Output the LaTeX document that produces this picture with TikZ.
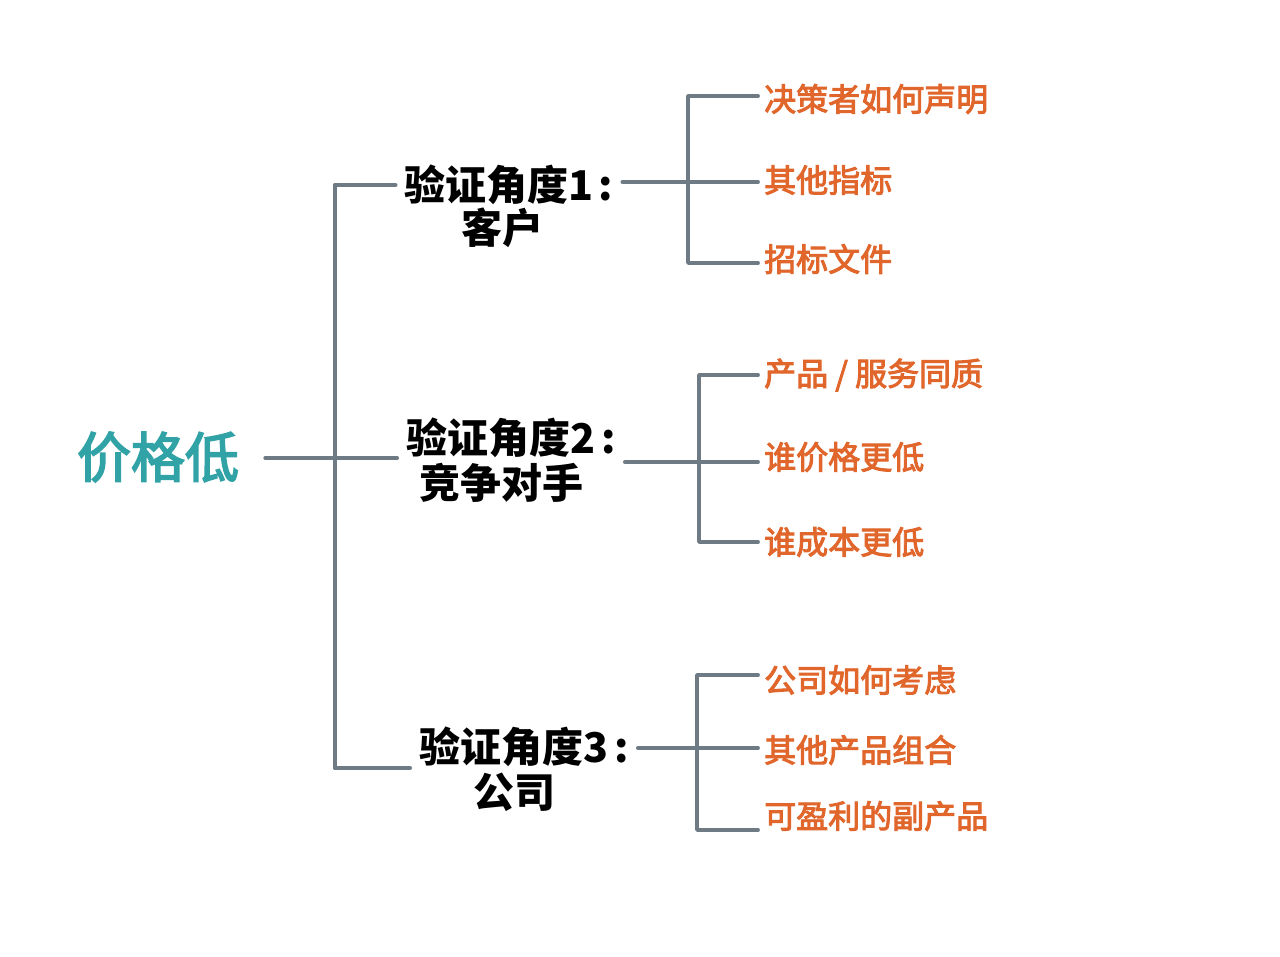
\documentclass[tikz,border=0pt]{standalone}
\usepackage{fontspec}
\setmainfont{Noto Sans CJK SC}
\newfontfamily\medcjk{Noto Sans CJK SC}[FakeBold=3]
\usetikzlibrary{positioning}
\definecolor{rootteal}{HTML}{31A3A6}
\definecolor{leaforange}{HTML}{E1662C}
\definecolor{branchgray}{HTML}{6E7B85}
\tikzset{rootlbl/.style={text=rootteal,font=\fontsize{54}{60}\medcjk,inner ysep=0pt,inner xsep=26pt},
  anglelbl/.style={font=\fontsize{41}{45}\selectfont\bfseries,inner ysep=0pt,inner xsep=9pt},
  leaflbl/.style={text=leaforange,font=\fontsize{32}{35}\medcjk,anchor=west,inner ysep=0pt,inner xsep=6pt},
  branch/.style={draw=branchgray,line width=3.8pt,line cap=round,line join=round}}
\begin{document}
\begin{tikzpicture}[x=1pt,y=-1pt]
\fill[white] (0,0) rectangle (1280,956);\useasboundingbox (0,0) rectangle (1280,956);
\node[rootlbl] (root) at (158,457) {价格低};
\node[anglelbl] (a1) at (509,185) {验证角度1\hspace{5pt}:};\node[anglelbl] (a1s) at (502,228) {客户};
\node[anglelbl] (a2) at (511,438) {验证角度2\hspace{6pt}:};\node[anglelbl] (a2s) at (501,483) {竞争对手};
\node[anglelbl] (a3) at (524,747) {验证角度3\hspace{6pt}:};\node[anglelbl] (a3s) at (514,792) {公司};
\node[leaflbl] (l11) at (758,99) {决策者如何声明};\node[leaflbl] (l12) at (758,180) {其他指标};\node[leaflbl] (l13) at (758,259) {招标文件};
\node[leaflbl] (l21) at (758,375) {产品 / 服务同质};\node[leaflbl] (l22) at (758,457) {谁价格更低};\node[leaflbl] (l23) at (758,542) {谁成本更低};
\node[leaflbl] (l31) at (758,680) {公司如何考虑};\node[leaflbl] (l32) at (758,750) {其他产品组合};\node[leaflbl] (l33) at (758,816) {可盈利的副产品};
\coordinate (t1) at (335,185);\coordinate (t2) at (335,458);\coordinate (t3) at (335,768);
\draw[branch] (t1)--(t3);\draw[branch] (t2 -| root.east)--(t2 -| a2.west);
\draw[branch] (t1)--(t1 -| a1.west);\draw[branch] (t3)--(t3 -| a3.west);
\coordinate (b1) at (688,182);\coordinate (b1t) at (688,96);\coordinate (b1b) at (688,263);
\draw[branch] (b1 -| a1.east)--(b1 -| l12.west);\draw[branch] (b1t -| l11.west)--(b1t)--(b1b)--(b1b -| l13.west);
\coordinate (b2) at (699,462);\coordinate (b2t) at (699,375);\coordinate (b2b) at (699,542);
\draw[branch] (b2 -| a2.east)--(b2 -| l22.west);\draw[branch] (b2t -| l21.west)--(b2t)--(b2b)--(b2b -| l23.west);
\coordinate (b3) at (697,748);\coordinate (b3t) at (697,675);\coordinate (b3b) at (697,830);
\draw[branch] (b3 -| a3.east)--(b3 -| l32.west);\draw[branch] (b3t -| l31.west)--(b3t)--(b3b)--(b3b -| l33.west);
\end{tikzpicture}
\end{document}
